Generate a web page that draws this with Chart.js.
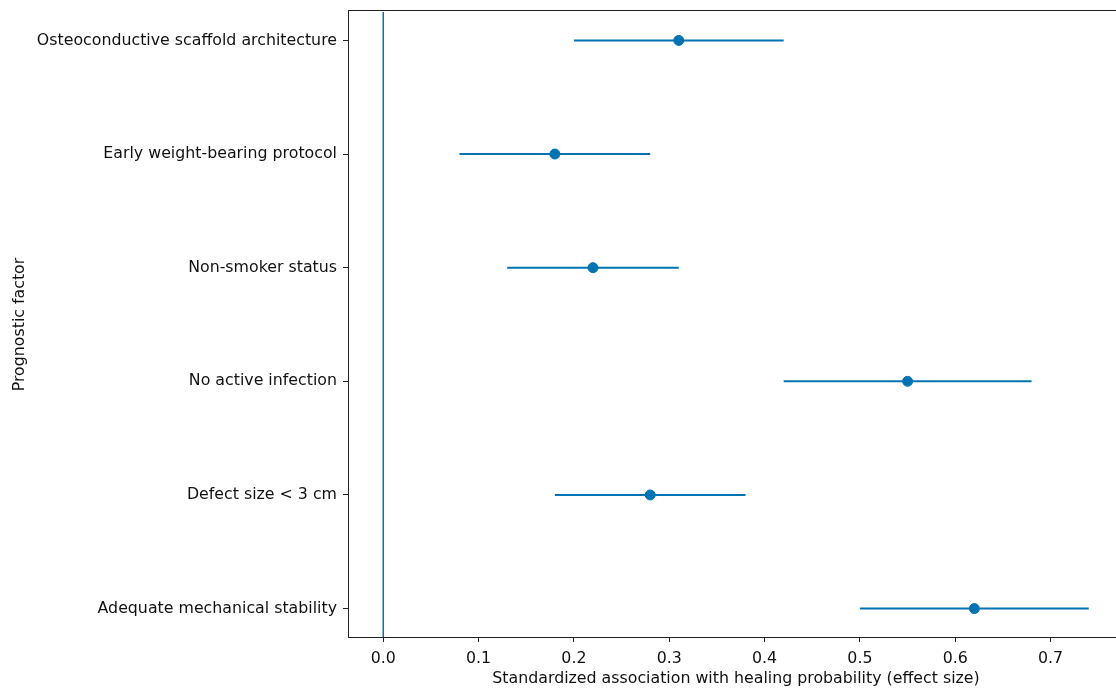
<!DOCTYPE html>
<html>
<head>
<meta charset="utf-8">
<script src="https://cdn.jsdelivr.net/npm/chart.js@4/dist/chart.umd.min.js"></script>
<style>
  html, body { margin: 0; padding: 0; background: #fff; overflow: hidden; }
  #wrap { width: 1130px; height: 688px; }
</style>
</head>
<body>
<div id="wrap"><canvas id="forest"></canvas></div>
<script>
// Forest plot - prognostic factors vs healing probability

// bottom to top (index 0 is the bottom row)
const factors = [
    'Adequate mechanical stability',
    'Defect size < 3 cm',
    'No active infection',
    'Non-smoker status',
    'Early weight-bearing protocol',
    'Osteoconductive scaffold architecture'
];
const effects = [0.62, 0.28, 0.55, 0.22, 0.18, 0.31];
const lowerCI = [0.50, 0.18, 0.42, 0.13, 0.08, 0.20];
const upperCI = [0.74, 0.38, 0.68, 0.31, 0.28, 0.42];
const xTicks = [0, 0.1, 0.2, 0.3, 0.4, 0.5, 0.6, 0.7];

const BLUE = '#0173b2';
const FONT = "'DejaVu Sans', sans-serif";
const FSIZE = 15.8;

// one line dataset per confidence interval
const ciSets = factors.map((f, i) => ({
    type: 'line',
    label: f + ' CI',
    data: [{ x: lowerCI[i], y: i }, { x: upperCI[i], y: i }],
    borderColor: BLUE,
    borderWidth: 2,
    pointRadius: 0,
    order: 2
}));

// reference line at zero effect
const zeroLine = {
    type: 'line',
    label: 'zero',
    data: [{ x: 0, y: -0.25 }, { x: 0, y: factors.length - 0.75 }],
    borderColor: BLUE,
    borderWidth: 1.5,
    pointRadius: 0,
    order: 3
};

const pointSet = {
    type: 'scatter',
    label: 'Effect size',
    data: effects.map((v, i) => ({ x: v, y: i })),
    backgroundColor: BLUE,
    borderColor: BLUE,
    pointRadius: 5,
    order: 1
};

// draws the full axes box (top and right sides)
const frame = {
    id: 'frame',
    afterDraw(chart) {
        const a = chart.chartArea;
        const c = chart.ctx;
        c.save();
        c.strokeStyle = '#222';
        c.lineWidth = 1;
        c.strokeRect(Math.round(a.left) + 0.5, Math.round(a.top) - 1.5,
            Math.round(a.right - a.left), Math.round(a.bottom - a.top) + 2);
        c.restore();
    }
};

new Chart(document.getElementById('forest'), {
    data: { datasets: [...ciSets, zeroLine, pointSet] },
    options: {
        responsive: true,
        maintainAspectRatio: false,
        animation: false,
        layout: { padding: { top: 12, right: 6, bottom: 0, left: 0 } },
        plugins: {
            legend: { display: false },
            tooltip: { enabled: false }
        },
        scales: {
            x: {
                type: 'linear',
                min: -0.037,
                max: 0.777,
                afterBuildTicks(scale) {
                    scale.ticks = xTicks.map(v => ({ value: v }));
                },
                afterFit(scale) { scale.height = 51; },
                grid: { drawOnChartArea: false, drawTicks: true, tickLength: 5, color: '#222' },
                border: { display: true, color: '#222', width: 1 },
                ticks: {
                    color: '#111',
                    font: { family: FONT, size: FSIZE },
                    padding: 7,
                    callback: v => v.toFixed(1)
                },
                title: {
                    display: true,
                    text: 'Standardized association with healing probability (effect size)',
                    color: '#111',
                    font: { family: FONT, size: FSIZE },
                    padding: { top: 0, bottom: 0 }
                }
            },
            y: {
                type: 'linear',
                min: -0.25,
                max: factors.length - 0.75,
                afterBuildTicks(scale) {
                    scale.ticks = factors.map((f, i) => ({ value: i }));
                },
                afterFit(scale) {
                    scale.width = 348;
                    scale.paddingTop = 0;
                    scale.paddingBottom = 0;
                },
                grid: { drawOnChartArea: false, drawTicks: true, tickLength: 5, color: '#222' },
                border: { display: true, color: '#222', width: 1 },
                ticks: {
                    color: '#111',
                    font: { family: FONT, size: FSIZE },
                    padding: 6,
                    callback: v => factors[v]
                },
                title: {
                    display: true,
                    text: 'Prognostic factor',
                    color: '#111',
                    font: { family: FONT, size: FSIZE },
                    padding: { top: 10, bottom: 0 }
                }
            }
        }
    },
    plugins: [frame]
});
</script>
</body>
</html>
